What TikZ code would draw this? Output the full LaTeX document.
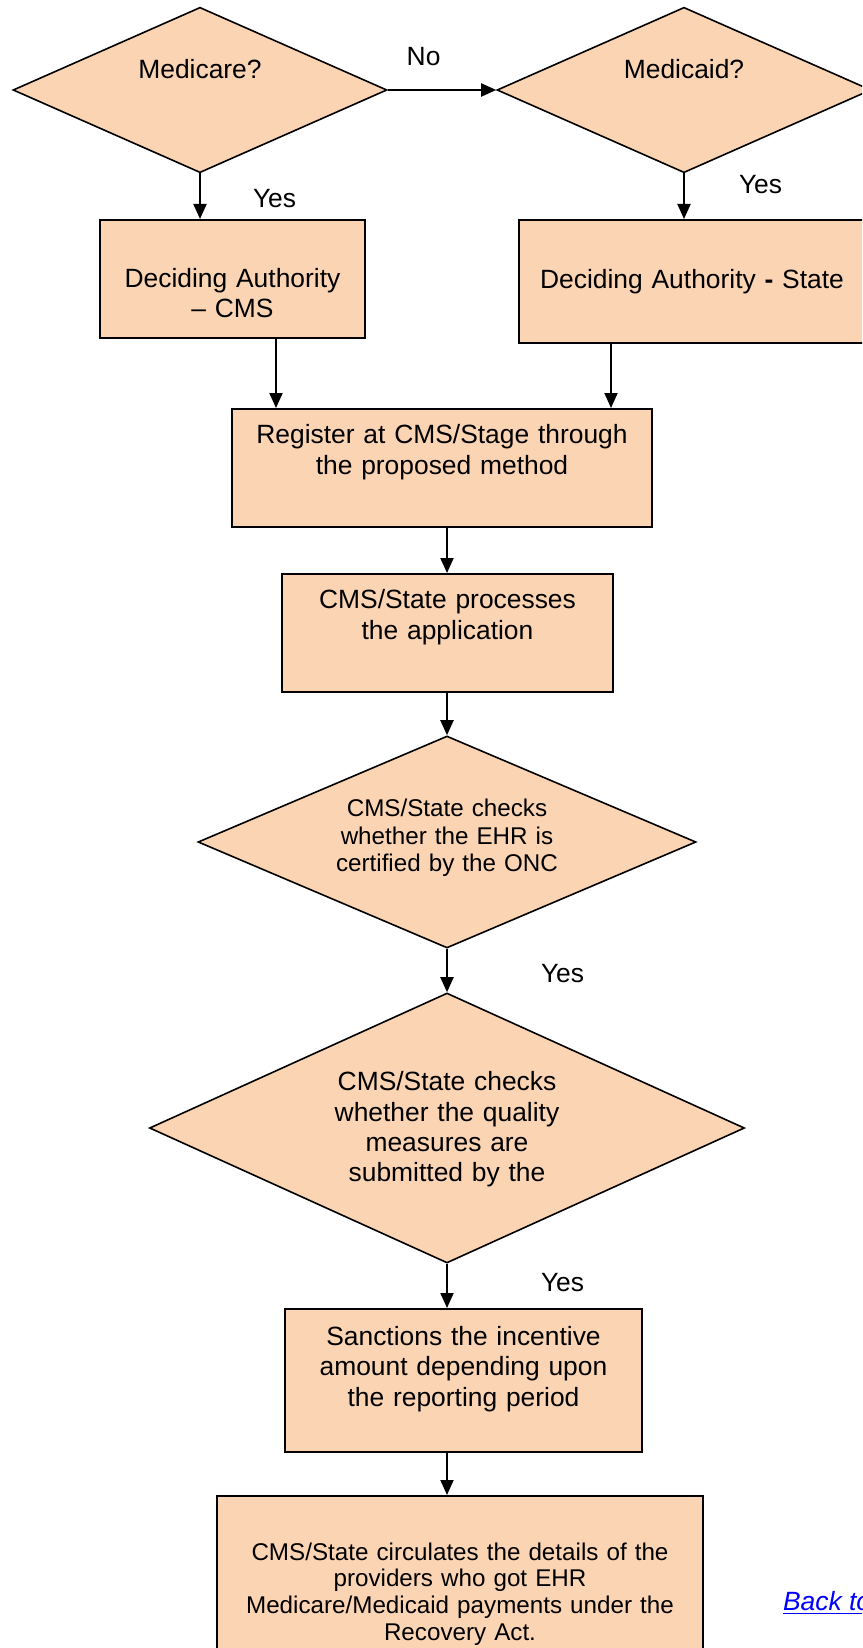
\documentclass[tikz,border=0pt]{standalone}
\usepackage{fontspec}
\setmainfont{Liberation Sans}
\usepackage{tikz}
\usetikzlibrary{shapes.geometric,arrows.meta,positioning}
\usepackage{xcolor}
\definecolor{peach}{HTML}{FBD4B4}
\definecolor{linkblue}{HTML}{0000FF}
\tikzstyle{decision}=[diamond, draw, line width=0.8pt, fill=peach, inner sep=0pt, align=center, font=\fontsize{13.2}{15.2}\selectfont]
\tikzstyle{block}=[rectangle, draw, line width=1.2pt, fill=peach, inner sep=0pt, align=center, anchor=north, font=\fontsize{13.2}{15.2}\selectfont]
\tikzstyle{flow}=[-{Triangle[length=7.5pt,width=6.5pt]}, line width=1pt]
\tikzstyle{lbl}=[inner sep=0pt, font=\fontsize{13.2}{15.2}\selectfont]

\begin{document}
\begin{tikzpicture}[x=0.5pt,y=-0.5pt]

% page
\useasboundingbox (0,0) rectangle (862,1648);
\clip (0,0) rectangle (862,1648);

% questions
\node[decision, minimum width=187pt, minimum height=82.7pt, aspect=2.26, text width=70pt, text height=10pt, text depth=21pt] (medicare) at (200,90) {Medicare?};
\node[decision, minimum width=187pt, minimum height=82.7pt, aspect=2.26, text width=70pt, text height=10pt, text depth=21pt] (medicaid) at (684,90) {Medicaid?};

% authorities
\node[block, text width=132.5pt, text height=33.5pt, text depth=25.5pt] (cms) at (232.5,219) {Deciding Authority\\– CMS};
\node[block, text width=173pt, text height=34pt, text depth=27.5pt] (state) at (692,219) {Deciding Authority \textbf{-} State};

% processing
\node[block, text width=210pt, text height=17.35pt, text depth=41.65pt] (reg) at (442,408) {Register at CMS/Stage through\\the proposed method};
\node[block, text width=165.5pt, text height=17.35pt, text depth=41.65pt] (proc) at (447.5,573) {CMS/State processes\\the application};

% checks
\node[decision, minimum width=249pt, minimum height=106pt, aspect=2.35, text width=112pt, text height=10pt, text depth=35.3pt, font=\fontsize{12.1}{13.75}\selectfont] (onc) at (447,842) {CMS/State checks\\whether the EHR is\\certified by the ONC};
\node[decision, minimum width=297.5pt, minimum height=135pt, aspect=2.2, text width=118pt, text height=10pt, text depth=47.3pt] (quality) at (447,1128) {CMS/State checks\\whether the quality\\measures are\\submitted by the};

% payment
\node[block, text width=178.5pt, text height=18pt, text depth=53.5pt] (sanction) at (463.5,1308) {Sanctions the incentive\\amount depending upon\\the reporting period};
\node[block, text width=243pt, text height=32pt, text depth=100pt, font=\fontsize{12.1}{13.35}\selectfont] (final) at (460,1495) {CMS/State circulates the details of the\\providers who got EHR\\Medicare/Medicaid payments under the\\Recovery Act.};

% link
\node[anchor=base west, inner sep=0pt, text=linkblue, font=\fontsize{13.2}{15.2}\selectfont\itshape] (back) at (782.7,1610) {\underline{Back to}};

% arrows
\draw[flow] (medicare) -- node[lbl, above=11.5pt, pos=0.33] {No} (medicaid);
\draw[flow] (medicare.south) -- node[lbl, right=26pt, pos=0.54] {Yes} (medicare.south |- cms.north);
\draw[flow] (medicaid.south) -- node[lbl, right=27pt, pos=0.24] {Yes} (medicaid.south |- state.north);
\draw[flow] (cms.south -| 276,0) -- (reg.north -| 276,0);
\draw[flow] (state.south -| 611,0) -- (reg.north -| 611,0);
\draw[flow] (reg.south -| 447,0) -- (proc.north -| 447,0);
\draw[flow] (proc.south -| 447,0) -- (onc.north);
\draw[flow] (onc.south) -- node[lbl, right=46.5pt, pos=0.58] {Yes} (quality.north);
\draw[flow] (quality.south) -- node[lbl, right=46.5pt, pos=0.42] {Yes} (quality.south |- sanction.north);
\draw[flow] (sanction.south -| 447,0) -- (final.north -| 447,0);

\end{tikzpicture}
\end{document}
